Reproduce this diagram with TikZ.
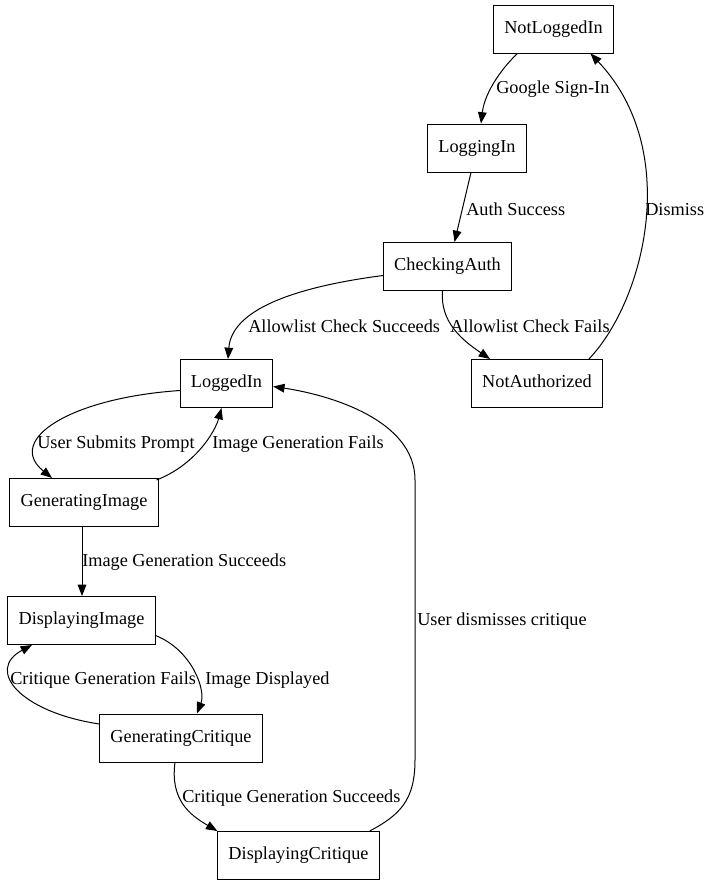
\documentclass[tikz,border=0pt]{standalone}
\usepackage{fontspec}
\setmainfont{Liberation Serif}
\usetikzlibrary{arrows.meta,calc}
\begin{document}
\begin{tikzpicture}[x=0.75pt,y=-0.75pt,
  state/.style={draw,line width=0.75pt,rectangle,minimum height=36pt,inner xsep=8pt,text height=9.5pt,text depth=3pt,font=\fontsize{13.7pt}{16pt}\selectfont},
  lbl/.style={anchor=west,inner sep=0pt,font=\fontsize{13.7pt}{16pt}\selectfont},
  edge/.style={draw,line width=0.75pt,-{Triangle[length=8.5pt,width=6.5pt]}}]
\useasboundingbox (0,0) rectangle (710,885);
\node[state] (nli) at (553.5,29) {NotLoggedIn};
\node[state] (li)  at (477,148) {LoggingIn};
\node[state] (ca)  at (447.5,266.5) {CheckingAuth};
\node[state] (lin) at (226.5,383.5) {LoggedIn};
\node[state] (na)  at (537,383.5) {NotAuthorized};
\node[state] (gi)  at (84,502.5) {GeneratingImage};
\node[state] (di)  at (81.5,620.5) {DisplayingImage};
\node[state] (gc)  at (181,738) {GeneratingCritique};
\node[state] (dc)  at (298.5,855.5) {DisplayingCritique};

\path[edge] ($(nli.south)+(-36,0)$) .. controls (505,65) and (485,90) .. ($(li.north)+(4,0)$);
\path[edge] ($(li.south)+(-6,0)$) -- ($(ca.north)+(7,0)$);
\path[edge] ($(ca.west)+(0,9)$) .. controls (310,285) and (232,305) .. ($(lin.north)+(1.5,0)$);
\path[edge] ($(ca.south)+(-5,0)$) .. controls (440,322) and (462,340) .. ($(na.north west)+(19,0)$);
\path[edge] ($(na.north east)+(-14,0)$) .. controls (645,300) and (682,150) .. ($(nli.south)+(37,0)$);
\path[edge] ($(lin.west)+(0,7)$) .. controls (70,398) and (5,440) .. ($(gi.north)+(-32,0)$);
\path[edge] ($(gi.north east)+(-2,2)$) .. controls (195,465) and (215,432) .. ($(lin.south)+(-5,0)$);
\path[edge] ($(gi.south)+(-2,0)$) -- ($(di.north)+(0.5,0)$);
\path[edge] ($(di.east)+(0,15)$) .. controls (192,650) and (206,690) .. ($(gc.north)+(16,0)$);
\path[edge] ($(gc.west)+(0,-14)$) .. controls (20,712) and (-15,670) .. ($(di.south)+(-49.5,0)$);
\path[edge] ($(gc.south)+(-6,0)$) .. controls (170,800) and (190,815) .. (dc.north west);
\path[edge] ($(dc.north east)+(-10,0)$) .. controls (400,815) and (415,800) .. (415,760) -- (415,480) .. controls (415,420) and (330,395) .. ($(lin.east)+(0,3)$);

\node[lbl] (l1) at (496,89.5) {Google Sign-In};
\node[lbl] (l2) at (466,209.5) {Auth Success};
\node[lbl] (l3) at (645,209.5) {Dismiss};
\node[lbl] (l4) at (248,326.5) {Allowlist Check Succeeds};
\node[lbl] (l5) at (450,326.5) {Allowlist Check Fails};
\node[lbl] (l6) at (37,444.5) {User Submits Prompt};
\node[lbl] (l7) at (212,444.5) {Image Generation Fails};
\node[lbl] (l8) at (82,562.5) {Image Generation Succeeds};
\node[lbl] (l9) at (205,680.5) {Image Displayed};
\node[lbl] (l10) at (10,680.5) {Critique Generation Fails};
\node[lbl] (l11) at (182,798.5) {Critique Generation Succeeds};
\node[lbl] (l12) at (417,621.5) {User dismisses critique};
\end{tikzpicture}
\end{document}
